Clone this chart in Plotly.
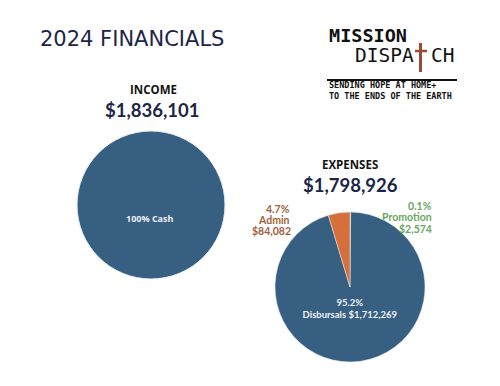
import plotly.graph_objects as go

# The page body adds an 8px margin, so the figure is sized to fit the window
# and reference pixel coordinates are shifted by that margin.
OFF = 8
W, H = 500 - 2 * OFF, 386 - 2 * OFF

income_labels = ["Cash"]
income_values = [1836101]

exp_labels = ["Promotion", "Disbursals", "Admin"]
exp_values = [2574, 1712269, 84082]
exp_colors = ["#a9bd5c", "#365f82", "#d56f3b"]

income_total = sum(income_values)
exp_total = 1798926

NAVY = "#1c2548"
NUMFONT = "Lato"


def px(x):
    return (x - OFF) / W


def py(y):
    return 1 - (y - OFF) / H


fig = go.Figure()

fig.add_trace(go.Pie(
    labels=income_labels, values=income_values,
    domain=dict(x=[px(76), px(226)], y=[py(279), py(131)]),
    marker=dict(colors=["#365f82"], line=dict(color="#e8eef3", width=1)),
    textinfo="none",
    sort=False, showlegend=False, hoverinfo="label+value",
))

inside_text = []
for lab, v in zip(exp_labels, exp_values):
    if lab == "Disbursals":
        inside_text.append(f"<b>{v/exp_total*100:.1f}%<br>{lab} ${v:,}</b>")
    else:
        inside_text.append("")

fig.add_trace(go.Pie(
    labels=exp_labels, values=exp_values,
    domain=dict(x=[px(275), px(425)], y=[py(362), py(212)]),
    marker=dict(colors=exp_colors, line=dict(color="#e8eef3", width=0.5)),
    text=inside_text, texttemplate="%{text}", textposition="inside",
    insidetextorientation="horizontal",
    textfont=dict(family="Lato", size=9.5, color="#eef1f5"),
    sort=False, direction="clockwise", rotation=0,
    showlegend=False, hoverinfo="label+value",
))

ann = []


def A(x, y, text, size, color, family, xanchor="center", bold=False):
    ann.append(dict(x=px(x), y=py(y), xref="paper", yref="paper",
                    text=f"<b>{text}</b>" if bold else text,
                    showarrow=False, xanchor=xanchor, yanchor="middle",
                    font=dict(size=size, color=color, family=family)))


A(38, 39, "2024 FINANCIALS", 21, NAVY, "DejaVu Sans", xanchor="left")
A(153, 90, "INCOME", 11.5, "#141414", "Open Sans", bold=True)
A(152, 110, f"${income_total:,}", 18.5, NAVY, NUMFONT, bold=True)
A(350, 164, "EXPENSES", 11.5, "#141414", "Open Sans", bold=True)
A(350, 185, f"${exp_total:,}", 18.5, NAVY, NUMFONT, bold=True)

# label inside the income pie
A(150, 219, f"{income_values[0]/income_total:.0%} {income_labels[0]}", 9, "#eef1f5",
  "Open Sans", bold=True)

admin_v = exp_values[2]
promo_v = exp_values[0]
ADMIN_C = "#a0613b"
PROMO_C = "#69a85f"
A(292, 209, f"{admin_v/exp_total*100:.1f}%", 10.5, ADMIN_C, "Lato", xanchor="right", bold=True)
A(292, 220, "Admin", 10.5, ADMIN_C, "Lato", xanchor="right", bold=True)
A(293, 231, f"${admin_v:,}", 10.5, ADMIN_C, "Lato", xanchor="right", bold=True)
A(434, 206, f"{promo_v/exp_total*100:.1f}%", 10.5, PROMO_C, "Lato", xanchor="right", bold=True)
A(434, 217, "Promotion", 10.5, PROMO_C, "Lato", xanchor="right", bold=True)
A(434, 229, f"${promo_v:,}", 10.5, PROMO_C, "Lato", xanchor="right", bold=True)

# logo
A(327, 35, "MISSION", 18.5, "#111111", "DejaVu Sans Mono", xanchor="left", bold=True)
A(353, 55, "DISPA", 19.5, "#111111", "DejaVu Sans Mono", xanchor="left")
A(429, 55, "CH", 19.5, "#111111", "DejaVu Sans Mono", xanchor="left")
A(327, 90.5, "<b>SENDING HOPE AT HOME+<br>TO THE ENDS OF THE EARTH</b>", 8.5,
  "#111111", "DejaVu Sans Mono", xanchor="left")
ann[-1]["align"] = "left"

shapes = [
    dict(type="line", xref="paper", yref="paper", x0=px(327), x1=px(457), y0=py(80), y1=py(80),
         line=dict(color="#111111", width=2)),
    dict(type="line", xref="paper", yref="paper", x0=px(420.5), x1=px(420.5), y0=py(43), y1=py(72),
         line=dict(color="#9b4a33", width=3)),
    dict(type="line", xref="paper", yref="paper", x0=px(415), x1=px(427), y0=py(51), y1=py(51),
         line=dict(color="#9b4a33", width=2.5)),
]

fig.update_layout(
    width=W, height=H, margin=dict(l=0, r=0, t=0, b=0),
    paper_bgcolor="white", plot_bgcolor="white",
    annotations=ann, shapes=shapes,
)

fig.write_html("out.html")
